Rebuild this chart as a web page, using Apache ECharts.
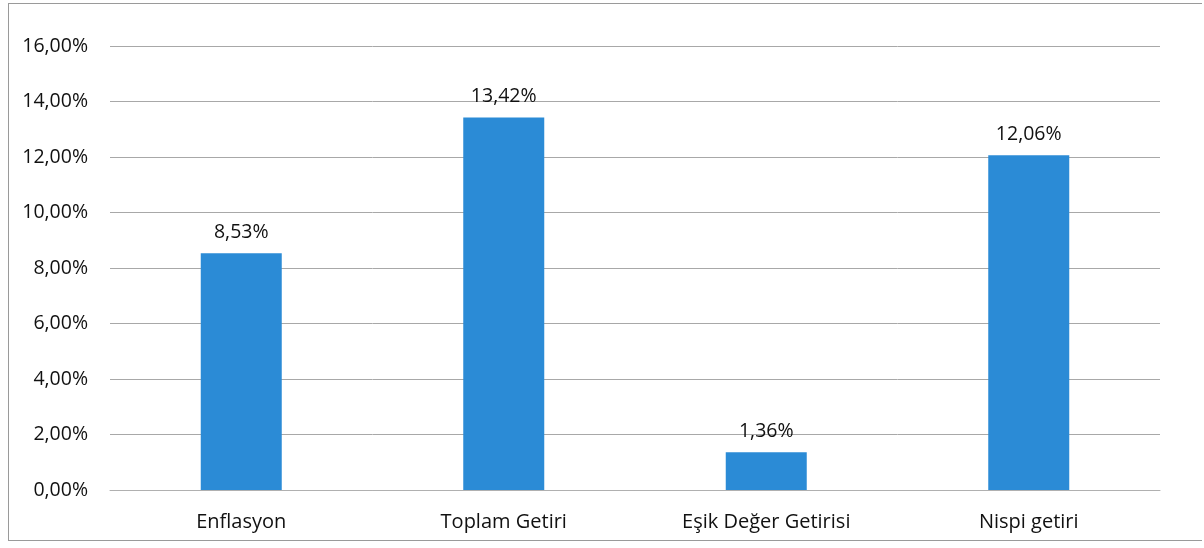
<!DOCTYPE html>
<html lang="tr">
<head>
    <meta charset="UTF-8">
    <title>Getiri Karşılaştırması</title>
    <script src="https://cdn.jsdelivr.net/npm/echarts@6/dist/echarts.min.js"></script>
    <style>
        html, body { margin: 0; padding: 0; background: #fff; }
        #frame { position: absolute; left: 8px; top: 3px; width: 1194px; height: 538px;
                 border: 1px solid #9a9a9a; border-right: none; box-sizing: border-box; }
        #main { position: absolute; left: 0; top: 0; width: 1204px; height: 548px; }
    </style>
</head>
<body>
    <div id="frame"></div>
    <div id="main"></div>
    <script type="text/javascript">
        // Kategoriler ve değerler (yüzde)
        const categories = ['Enflasyon', 'Toplam Getiri', 'Eşik Değer Getirisi', 'Nispi getiri'];
        const values = [8.53, 13.42, 1.36, 12.06];

        const fontFamily = '"Open Sans", Lato, sans-serif';
        const fmt = (v) => v.toFixed(2).replace('.', ',') + '%';

        let myChart = echarts.init(document.getElementById('main'));

        let options = {
            animation: false,
            grid: { left: 110, right: 44, top: 46, bottom: 58 },
            xAxis: {
                type: 'category',
                data: categories,
                axisLine: { lineStyle: { color: '#b0b0b0', width: 1 } },
                axisTick: { show: false },
                axisLabel: { color: '#111', fontSize: 20, fontFamily: fontFamily, margin: 22 }
            },
            yAxis: {
                type: 'value',
                min: 0,
                max: 16,
                interval: 2,
                axisLine: { show: false },
                axisTick: { show: false },
                splitLine: { lineStyle: { color: '#a8a8a8', width: 1 } },
                axisLabel: {
                    color: '#111',
                    fontSize: 19.5,
                    fontFamily: fontFamily,
                    margin: 22,
                    formatter: (v) => fmt(v)
                }
            },
            series: [{
                name: 'Getiri',
                type: 'bar',
                data: values,
                barWidth: 81,
                itemStyle: { color: '#2b8bd6' },
                label: {
                    show: true,
                    position: 'top',
                    distance: 11,
                    color: '#111',
                    fontSize: 19.5,
                    fontFamily: fontFamily,
                    formatter: (p) => fmt(p.value)
                }
            }]
        };

        myChart.setOption(options);
    </script>
</body>
</html>
